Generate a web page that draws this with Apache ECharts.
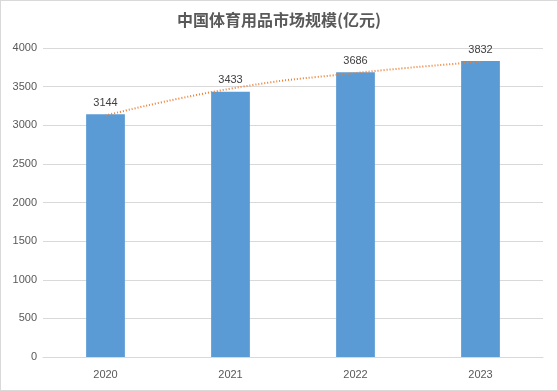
<!DOCTYPE html>
<html><head><meta charset="utf-8">
<script src="https://cdn.jsdelivr.net/npm/echarts@6/dist/echarts.min.js"></script>
<style>html,body{margin:0;padding:0;background:#fff}#c{width:558px;height:391px;box-sizing:border-box;border:1px solid #D9D9D9}</style>
</head><body><div id="c"></div>
<script>
const categories = ['2020', '2021', '2022', '2023'];
const marketSize = [3144, 3433, 3686, 3832];
const trendValues = [3126, 3473, 3676, 3820];
const yTicks = [0, 500, 1000, 1500, 2000, 2500, 3000, 3500, 4000];
const titleText = '中国体育用品市场规模(亿元)';

const chart = echarts.init(document.getElementById('c'));
chart.setOption({
  animation: false,
  title: {
    text: titleText, left: 'center', top: 6,
    textStyle: { fontFamily: 'Noto Sans CJK SC', fontSize: 16, fontWeight: 'bold', color: '#595959' }
  },
  grid: { left: 42, right: 14, top: 47, bottom: 33 },
  xAxis: {
    type: 'category', data: categories,
    axisLine: { lineStyle: { color: '#D9D9D9' } },
    axisTick: { show: false },
    axisLabel: { color: '#595959', fontSize: 11, fontFamily: 'Liberation Sans', margin: 12 }
  },
  yAxis: {
    type: 'value', min: yTicks[0], max: yTicks[yTicks.length - 1], interval: 500,
    axisLine: { show: false }, axisTick: { show: false },
    splitLine: { lineStyle: { color: '#D9D9D9' } },
    axisLabel: { color: '#595959', fontSize: 11, fontFamily: 'Liberation Sans', margin: 6, formatter: v => String(v) }
  },
  series: [
    {
      type: 'bar', data: marketSize, barWidth: '31%',
      itemStyle: { color: '#5B9BD5' },
      label: { show: true, position: 'top', color: '#404040', fontSize: 11, fontFamily: 'Liberation Sans', distance: 6 }
    },
    {
      type: 'line', data: trendValues, smooth: true, symbol: 'none', z: 5,
      lineStyle: { color: '#ED7D31', width: 2, type: [1, 2] }
    }
  ]
});
</script></body></html>
